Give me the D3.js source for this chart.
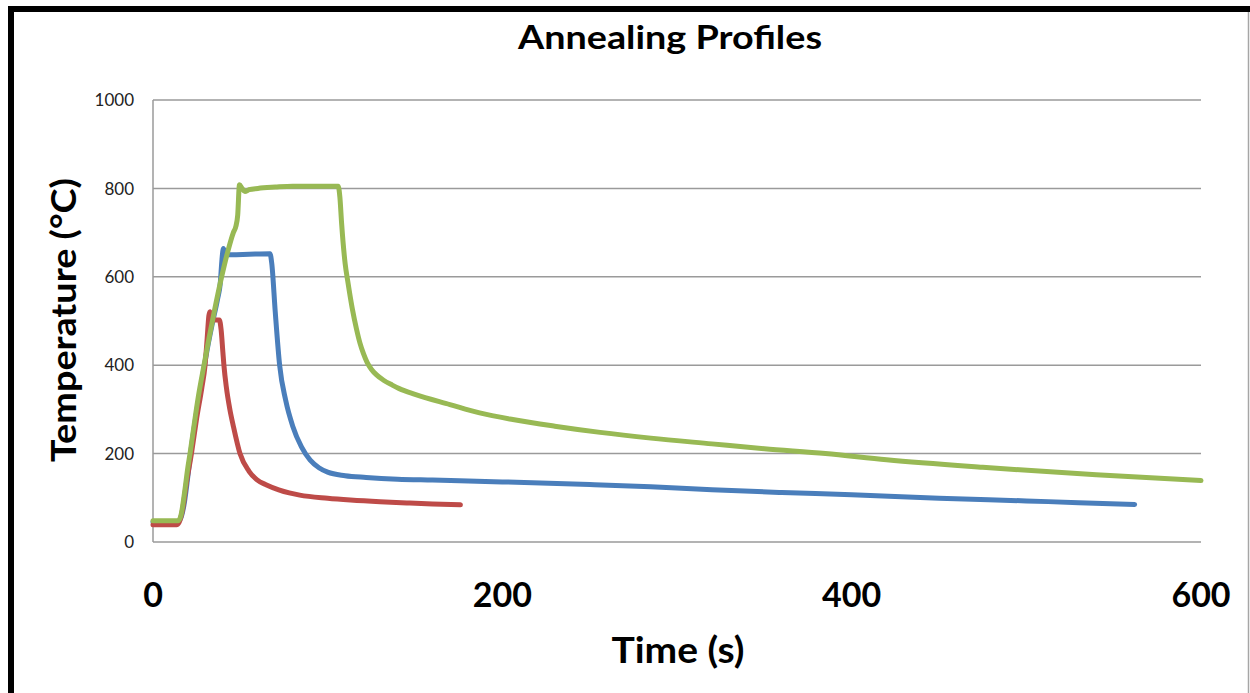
<!DOCTYPE html>
<html>
<head>
<meta charset="utf-8">
<script src="https://cdn.jsdelivr.net/npm/d3@7"></script>
<style>
  html, body { margin: 0; padding: 0; background: #fff; }
  svg { display: block; }
</style>
</head>
<body>
<svg id="chart" width="1250" height="693"></svg>
<script>
// ---- data ----
const chartTitle = "Annealing Profiles";
const xTitle = "Time (s)";
const yTitle = "Temperature (°C)";
const xTicks = [0, 200, 400, 600];
const yTicks = [0, 200, 400, 600, 800, 1000];

// series: [time (s), temperature (°C)]
const blueSeries = [
  [0,45],[14,45],[16,55],[18,90],[20,150],[22,215],[25,295],[28,365],[31,435],[34,495],[37,550],
  [38.5,585],[39.5,640],[40.3,664],[41.5,650],[45,650],[55,651],[67,652],[68,630],[70,520],
  [72.5,400],[76,320],[80,262],[85,215],[90,185],[95,168],[100,158],[110,150],[122,146],[140,142],
  [160,140],[200,136],[250,130],[285,125],[320,118],[360,112],[400,107],[450,99],[500,93],[530,89],[562,85]
];
const redSeries = [
  [0,39],[13.5,39],[15,45],[17,75],[19,130],[22,200],[25,280],[28,350],[29.8,400],[31,460],
  [32,512],[32.6,521],[33.5,510],[35,502],[38,502],[39,480],[40,430],[40.6,400],[42,350],[44,300],
  [46,262],[49.8,200],[55,160],[59.4,141],[65,129],[72,118],[78,111],[84,106],[100,99],[113,95],
  [130,91],[147,88],[160,86],[176,84]
];
const greenSeries = [
  [0,48],[14.5,48],[16,60],[18,110],[20,170],[21.2,200],[23,250],[26,330],[29.2,400],[32,460],
  [35,520],[39.3,600],[43,660],[46,700],[47.5,715],[48.5,740],[49.5,808],[51,800],[52.6,793],
  [55,797],[60,800],[70,803],[80,805],[106,805],[107,780],[108,720],[110,630],[111.5,590],[114,530],
  [116.5,482],[118.5,450],[120.5,426],[122.5,407],[125,391],[128,378],[132,366],[137,355],[141,347],
  [150,334],[170,311],[187,292],[206,277],[230,262],[256,248],[285,235],[320,222],[350,211],
  [385,200],[420,186],[475,169],[540,152],[600,139]
];
const seriesList = [
  { name: "blue", color: "#4A7EBB", values: blueSeries },
  { name: "red", color: "#BE4B48", values: redSeries },
  { name: "green", color: "#98B954", values: greenSeries }
];

// ---- drawing ----
const svg = d3.select("#chart");
const x = d3.scaleLinear().domain([0, 600]).range([153, 1201]);
const y = d3.scaleLinear().domain([0, 1000]).range([542, 100]);
const FONT = "Lato, 'Open Sans', sans-serif";

// frame (cropped border)
svg.append("rect").attr("x", 0).attr("y", 0).attr("width", 1250).attr("height", 693).attr("fill", "#fff");
svg.append("line").attr("x1", 8).attr("x2", 1250).attr("y1", 9).attr("y2", 9)
  .attr("stroke", "#000").attr("stroke-width", 6);
svg.append("line").attr("x1", 11).attr("x2", 11).attr("y1", 6).attr("y2", 693)
  .attr("stroke", "#000").attr("stroke-width", 6);
svg.append("line").attr("x1", 1248.5).attr("x2", 1248.5).attr("y1", 12).attr("y2", 693)
  .attr("stroke", "#A6A6A6").attr("stroke-width", 1.5);

// gridlines
svg.append("g").selectAll("line").data(yTicks).join("line")
  .attr("x1", x(0)).attr("x2", x(600))
  .attr("y1", d => y(d)).attr("y2", d => y(d))
  .attr("stroke", "#9A9A9A").attr("stroke-width", 1.5);

// left axis line
svg.append("line").attr("x1", x(0)).attr("x2", x(0)).attr("y1", y(1000)).attr("y2", y(0))
  .attr("stroke", "#9A9A9A").attr("stroke-width", 1.5);

// y tick labels
svg.append("g").selectAll("text").data(yTicks).join("text")
  .attr("x", 134).attr("y", d => y(d)).attr("dy", "0.36em")
  .attr("text-anchor", "end")
  .attr("font-family", FONT).attr("font-size", 17)
  .attr("fill", "#222")
  .text(d => d);

// x tick labels
svg.append("g").selectAll("text").data(xTicks).join("text")
  .attr("x", d => x(d)).attr("y", 607)
  .attr("text-anchor", "middle")
  .attr("font-family", FONT).attr("font-weight", "bold").attr("font-size", 34)
  .attr("fill", "#000")
  .text(d => d);

// lines
const line = d3.line().x(d => x(d[0])).y(d => y(d[1])).curve(d3.curveMonotoneX);
svg.append("g").selectAll("path").data(seriesList).join("path")
  .attr("d", d => line(d.values))
  .attr("fill", "none").attr("stroke", d => d.color)
  .attr("stroke-width", 5).attr("stroke-linejoin", "round").attr("stroke-linecap", "round");

// titles
svg.append("text").attr("x", 670).attr("y", 49).attr("text-anchor", "middle")
  .attr("font-family", FONT).attr("font-weight", "bold").attr("font-size", 33)
  .attr("textLength", 304).attr("lengthAdjust", "spacingAndGlyphs")
  .attr("fill", "#000").text(chartTitle);

svg.append("text").attr("x", 678).attr("y", 663).attr("text-anchor", "middle")
  .attr("font-family", FONT).attr("font-weight", "bold").attr("font-size", 36)
  .attr("textLength", 133).attr("lengthAdjust", "spacingAndGlyphs")
  .attr("fill", "#000").text(xTitle);

svg.append("text").attr("transform", "translate(76,320) rotate(-90)").attr("text-anchor", "middle")
  .attr("font-family", FONT).attr("font-weight", "bold").attr("font-size", 34)
  .attr("textLength", 284).attr("lengthAdjust", "spacingAndGlyphs")
  .attr("fill", "#000").text(yTitle);
</script>
</body>
</html>
